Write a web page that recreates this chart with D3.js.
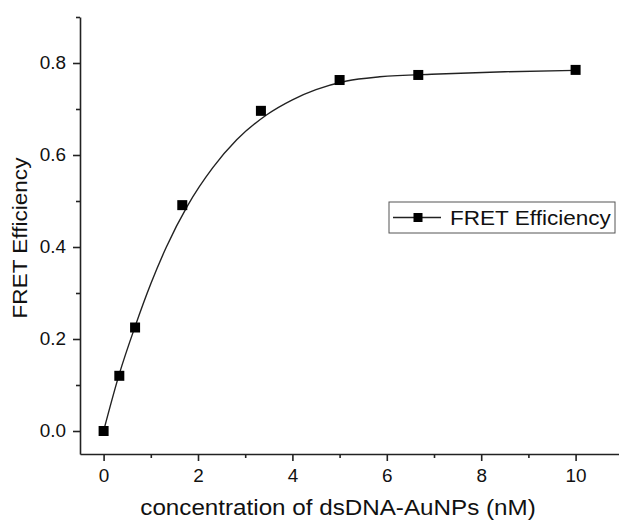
<!DOCTYPE html>
<html>
<head>
<meta charset="utf-8">
<script src="https://cdn.jsdelivr.net/npm/d3@7"></script>
<style>
  body { margin: 0; background: #fff; }
  svg { display: block; font-family: "Liberation Sans", Arial, sans-serif; }
</style>
</head>
<body>
<main></main>
<script>
// measured points
const concentration = [0, 0.333, 0.667, 1.667, 3.333, 5, 6.667, 10];
const efficiency = [0, 0.12, 0.225, 0.491, 0.696, 0.763, 0.774, 0.785];

// fitted curve
const fitX = [0, 0.33, 0.67, 1.0, 1.33, 1.78, 2.31, 2.82, 3.45, 4.0, 4.5, 5.15, 5.85, 7.1, 8.5, 10];
const fitY = [0, 0.123, 0.228, 0.32, 0.4, 0.49, 0.572, 0.633, 0.687, 0.72, 0.742, 0.761, 0.77, 0.776, 0.781, 0.784];

const xMajor = [0, 2, 4, 6, 8, 10];
const xMinor = [1, 3, 5, 7, 9, 11];
const yMajor = [0, 0.2, 0.4, 0.6, 0.8];
const yMinor = [0.1, 0.3, 0.5, 0.7, 0.9];

const width = 619;
const height = 523;
const plotLeft = 80;
const plotTop = 17;
const plotBottom = 454;

const svg = d3.select('main')
  .append('svg')
  .attr('width', width)
  .attr('height', height);

// widen a text node horizontally without changing its height
// (the reference text is a bit wider than Liberation Sans)
const stretch = (sel, k) => sel.each(function () {
  const len = this.getComputedTextLength();
  d3.select(this)
    .attr('textLength', len * k)
    .attr('lengthAdjust', 'spacingAndGlyphs');
});

const xScale = d3.scaleLinear()
  .domain([-0.5, 11])
  .range([plotLeft, plotLeft + 11.5 * 47.2]);

const yScale = d3.scaleLinear()
  .domain([-0.05, 0.9])
  .range([plotBottom, plotTop]);

/* axes */
const axisColor = '#222';

svg.append('g')
  .attr('transform', `translate(0, ${plotBottom})`)
  .call(d3.axisBottom(xScale).tickValues(xMajor).tickSize(7).tickSizeOuter(0).tickPadding(8).tickFormat(d3.format('d')));
svg.append('g')
  .attr('transform', `translate(0, ${plotBottom})`)
  .call(d3.axisBottom(xScale).tickValues(xMinor).tickSize(4).tickFormat(''))
  .select('.domain').remove();

svg.append('g')
  .attr('transform', `translate(${plotLeft}, 0)`)
  .call(d3.axisLeft(yScale).tickValues(yMajor).tickSize(7).tickSizeOuter(0).tickPadding(7).tickFormat(d3.format('.1f')));
svg.append('g')
  .attr('transform', `translate(${plotLeft}, 0)`)
  .call(d3.axisLeft(yScale).tickValues(yMinor).tickSize(4).tickFormat(''))
  .select('.domain').remove();

svg.selectAll('.domain, .tick line')
  .attr('stroke', axisColor)
  .attr('stroke-width', 1.6);
svg.selectAll('.tick text')
  .attr('font-size', 18)
  .attr('font-family', '"Liberation Sans", Arial, sans-serif')
  .attr('fill', '#111')
  .call(stretch, 1.05);

svg.append('text')
  .text('concentration of dsDNA-AuNPs (nM)')
  .attr('x', 338)
  .attr('y', 515)
  .attr('text-anchor', 'middle')
  .attr('font-size', 22)
  .attr('fill', '#111')
  .call(stretch, 1.1);

svg.append('text')
  .text('FRET Efficiency')
  .attr('transform', `translate(27, ${238}) rotate(-90)`)
  .attr('text-anchor', 'middle')
  .attr('font-size', 20.5)
  .attr('fill', '#111')
  .call(stretch, 1.1);

/* fitted curve and points */
const fitLine = d3.line()
  .x((d, i) => xScale(fitX[i]))
  .y(d => yScale(d))
  .curve(d3.curveMonotoneX);

svg.append('path')
  .datum(fitY)
  .attr('d', fitLine)
  .attr('fill', 'none')
  .attr('stroke', '#222')
  .attr('stroke-width', 1.4);

const markerSize = 10;
svg.selectAll('rect.point')
  .data(efficiency)
  .enter()
  .append('rect')
  .attr('class', 'point')
  .attr('x', (d, i) => xScale(concentration[i]) - markerSize / 2)
  .attr('y', d => yScale(d) - markerSize / 2)
  .attr('width', markerSize)
  .attr('height', markerSize)
  .attr('fill', '#000');

/* legend */
const legend = svg.append('g').attr('transform', 'translate(389, 202)');
legend.append('rect')
  .attr('width', 226)
  .attr('height', 31)
  .attr('fill', '#fff')
  .attr('stroke', '#555')
  .attr('stroke-width', 1);
legend.append('line')
  .attr('x1', 4).attr('x2', 52)
  .attr('y1', 15.5).attr('y2', 15.5)
  .attr('stroke', '#222')
  .attr('stroke-width', 1.4);
legend.append('rect')
  .attr('x', 29 - 4.5).attr('y', 15.5 - 4.5)
  .attr('width', 9).attr('height', 9)
  .attr('fill', '#000');
legend.append('text')
  .text('FRET Efficiency')
  .attr('x', 61)
  .attr('y', 23)
  .attr('font-size', 20.5)
  .attr('fill', '#111')
  .call(stretch, 1.1);
</script>
</body>
</html>
